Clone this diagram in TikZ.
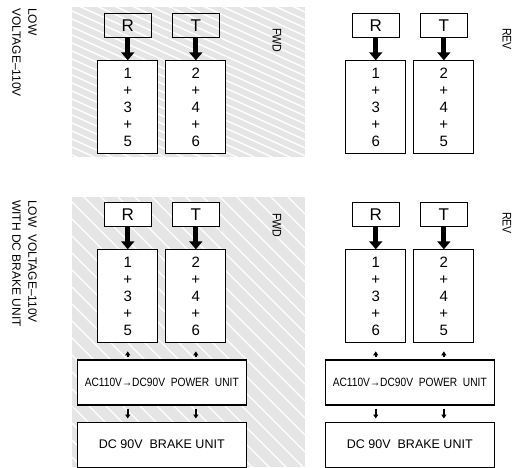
\documentclass[tikz,border=0pt]{standalone}
\usepackage{fontspec}
\setmainfont{Liberation Sans}
\newfontfamily\narrowsf{Liberation Sans}[FakeStretch=0.85]
\usetikzlibrary{positioning,calc,matrix,arrows.meta}
\definecolor{bg}{rgb}{0.9,0.9,0.9}

\begin{document}
\begin{tikzpicture}[x=1pt,y=1pt,
    lbl/.style={draw,line width=1.1pt,minimum width=47pt,minimum height=24pt,inner sep=0pt,font=\fontsize{17}{17}\selectfont},
    nums/.style={draw,fill=white,line width=1.1pt,minimum width=60pt,minimum height=93pt,inner sep=0pt,align=center,font=\fontsize{15}{17}\selectfont},
    unitbox/.style={draw,fill=white,line width=1.1pt,minimum width=169pt,minimum height=45pt,inner sep=0pt},
    feed/.style={line width=5pt,-{Triangle[length=8pt,width=13pt]}},
    tinyarr/.style={line width=2pt,-{Triangle[length=4pt,width=5pt]}},
    side/.style={rotate=-90,inner sep=0pt,align=left,font=\fontsize{12}{16}\selectfont},
    tag/.style={rotate=-90,inner sep=0pt,font=\narrowsf\fontsize{12.5}{12.5}\selectfont},
    stripe/.style={white,line width=1.4pt}]
    \useasboundingbox (0,0) rectangle (519,-467);

    % hatched backgrounds of the FWD panels
    \begin{scope}
      \clip (72,-7) rectangle (305,-157);
      \fill[bg] (72,-7) rectangle (305,-157);
      \foreach \k in {0,...,35} \draw[stripe] (72,{101-8*\k}) -- ++(240,-108);
    \end{scope}
    \begin{scope}
      \clip (72,-197) rectangle (305,-467);
      \fill[bg] (72,-197) rectangle (305,-467);
      \foreach \k in {0,...,32} \draw[stripe] (72,{36-17*\k}) -- ++(240,-240);
    \end{scope}

    % side captions
    \node[side,anchor=north west] (lv) at (37,-8) {LOW\\VOLTAGE--110V};
    \node[side,anchor=north west] (lvb) at (37,-200) {LOW\ \ VOLTAGE--110V\\WITH DC BRAKE UNIT};
    \node[tag,anchor=west] (fwda) at (277,-28) {FWD};
    \node[tag,anchor=west] (reva) at (507,-28) {REV};
    \node[tag,anchor=west] (fwdc) at (277,-213) {FWD};
    \node[tag,anchor=west] (revd) at (507,-212) {REV};

    % top row, FWD and REV
    \matrix (ma) [ampersand replacement=\&, column sep=7pt, row sep=22pt, inner sep=0pt, matrix anchor=north west] at (97,-13) {
    \node[lbl] (ra) {R}; \& \node[lbl] (ta) {T}; \\
    \node[nums] (na1) {1\\+\\3\\+\\5}; \& \node[nums] (na2) {2\\+\\4\\+\\6}; \\
    };
    \matrix (mb) [ampersand replacement=\&, column sep=7pt, row sep=22pt, inner sep=0pt, matrix anchor=north west] at (345,-13) {
    \node[lbl] (rb) {R}; \& \node[lbl] (tb) {T}; \\
    \node[nums] (nb1) {1\\+\\3\\+\\6}; \& \node[nums] (nb2) {2\\+\\4\\+\\5}; \\
    };

    % bottom row, with brake unit
    \matrix (mc) [ampersand replacement=\&, column sep=7pt, row sep=22pt, inner sep=0pt, matrix anchor=north west] at (97,-202) {
    \node[lbl,fill=white] (rc) {R}; \& \node[lbl,fill=white] (tc) {T}; \\
    \node[nums] (nc1) {1\\+\\3\\+\\5}; \& \node[nums] (nc2) {2\\+\\4\\+\\6}; \\
    };
    \matrix (md) [ampersand replacement=\&, column sep=7pt, row sep=22pt, inner sep=0pt, matrix anchor=north west] at (345,-202) {
    \node[lbl] (rd) {R}; \& \node[lbl] (td) {T}; \\
    \node[nums] (nd1) {1\\+\\3\\+\\6}; \& \node[nums] (nd2) {2\\+\\4\\+\\5}; \\
    };

    \coordinate (cc) at ($(nc1.south)!.5!(nc2.south)$);
    \coordinate (cd) at ($(nd1.south)!.5!(nd2.south)$);
    \node[unitbox,below=16pt of cc,font=\narrowsf\fontsize{12}{12}\selectfont] (pwc) {AC110V→DC90V\ \ POWER\ \ UNIT};
    \node[unitbox,below=16pt of pwc,font=\fontsize{12.5}{12.5}\selectfont] (brc) {DC 90V\ \ BRAKE UNIT};
    \node[unitbox,below=16pt of cd,font=\narrowsf\fontsize{12}{12}\selectfont] (pwd) {AC110V→DC90V\ \ POWER\ \ UNIT};
    \node[unitbox,below=16pt of pwd,font=\fontsize{12.5}{12.5}\selectfont] (brd) {DC 90V\ \ BRAKE UNIT};

    \draw [feed] (ra) -- (na1);
    \draw [feed] (ta) -- (na2);
    \draw [feed] (rb) -- (nb1);
    \draw [feed] (tb) -- (nb2);
    \draw [feed] (rc) -- (nc1);
    \draw [feed] (tc) -- (nc2);
    \draw [feed] (rd) -- (nd1);
    \draw [feed] (td) -- (nd2);

    \draw [tinyarr,shorten <=2pt,shorten >=8pt] (pwc.north -| nc1) -- (nc1.south);
    \draw [tinyarr,shorten <=2pt,shorten >=8pt] (pwc.north -| nc2) -- (nc2.south);
    \draw [tinyarr,shorten <=3pt,shorten >=3pt] (pwc.south -| nc1) -- (brc.north -| nc1);
    \draw [tinyarr,shorten <=3pt,shorten >=3pt] (pwc.south -| nc2) -- (brc.north -| nc2);
    \draw [tinyarr,shorten <=2pt,shorten >=8pt] (pwd.north -| nd1) -- (nd1.south);
    \draw [tinyarr,shorten <=2pt,shorten >=8pt] (pwd.north -| nd2) -- (nd2.south);
    \draw [tinyarr,shorten <=3pt,shorten >=3pt] (pwd.south -| nd1) -- (brd.north -| nd1);
    \draw [tinyarr,shorten <=3pt,shorten >=3pt] (pwd.south -| nd2) -- (brd.north -| nd2);
  \end{tikzpicture}
\end{document}
